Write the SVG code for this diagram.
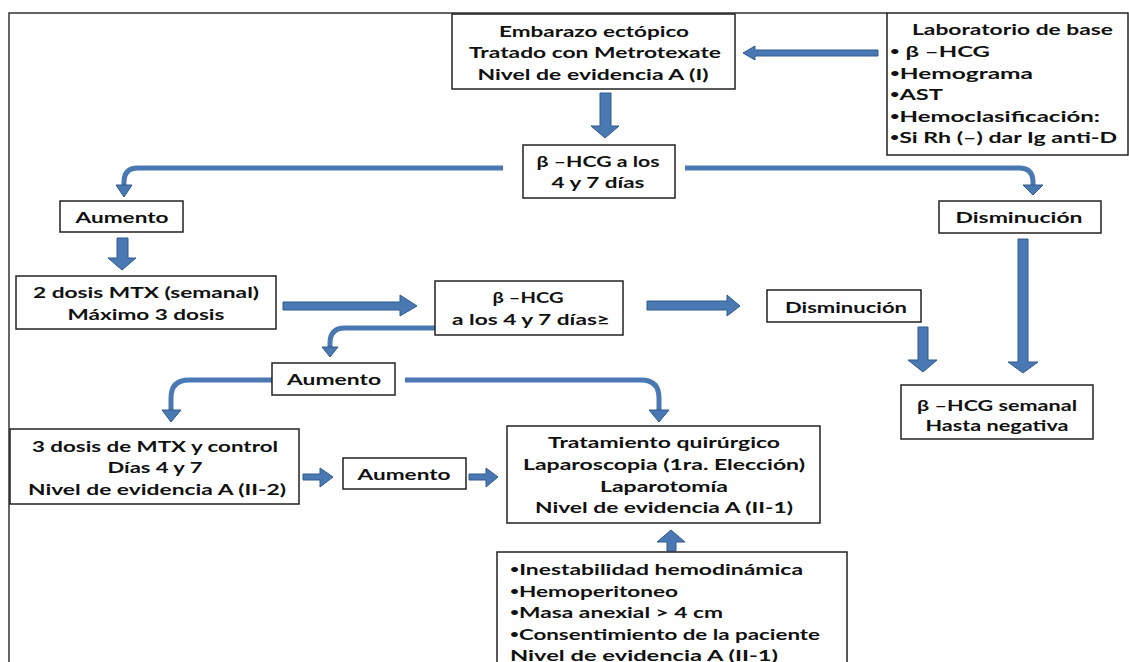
<svg xmlns="http://www.w3.org/2000/svg" width="1129" height="662" viewBox="0 0 1129 662">
<style>
.bx{fill:#fff;stroke:#222;stroke-width:1.5}
.t{font-family:Lato,"Open Sans","Liberation Sans",sans-serif;font-weight:700;font-size:16px;fill:#111}
.m{text-anchor:middle}
.b{font-size:11px}
.ar{fill:#4a78b3;stroke:#2f5b8d;stroke-width:1}
.cv{fill:none;stroke:#4a78b3;stroke-width:5}
.fr{stroke:#333;stroke-width:1.5;fill:none}
</style>
<rect width="1129" height="662" fill="#fff"/>
<path class="fr" d="M9,662 V13 H887"/>

<g id="connectors">
  <polygon class="ar" points="878,50 755,50 755,46 743,53 755,60 755,56 878,56"/>
  <polygon class="ar" points="600,93 611,93 611,126 619,126 605,138 591,126 600,126"/>
  <path class="cv" d="M503,168 H138 Q124,168 124,182 V186"/>
  <polygon class="ar" points="116,185 132,185 124,197"/>
  <path class="cv" d="M685,168 H1019 Q1033,168 1033,182 V186"/>
  <polygon class="ar" points="1023,185 1043,185 1033,195"/>
  <polygon class="ar" points="117,238 128,238 128,258 136,258 122,270 108,258 117,258"/>
  <polygon class="ar" points="283,302 400,302 400,295 417,306 400,316 400,310 283,310"/>
  <polygon class="ar" points="647,301 727,301 727,295 740,306 727,316 727,310 647,310"/>
  <polygon class="ar" points="918,327 928,327 928,360 937,360 923,372 908,360 918,360"/>
  <polygon class="ar" points="1018,239 1028,239 1028,362 1038,362 1023,373 1008,362 1018,362"/>
  <path class="cv" d="M437,328 H345 Q330,328 330,343 V348"/>
  <polygon class="ar" points="322,347 338,347 330,357"/>
  <path class="cv" d="M272,380 H189 Q171,380 171,398 V411"/>
  <polygon class="ar" points="162,410 181,410 171,422"/>
  <path class="cv" d="M405,380 H641 Q659,380 659,398 V411"/>
  <polygon class="ar" points="649,410 669,410 659,422"/>
  <polygon class="ar" points="303,474 320,474 320,468 333,477 320,487 320,480 303,480"/>
  <polygon class="ar" points="469,474 486,474 486,468 498,477 486,487 486,480 469,480"/>
  <polygon class="ar" points="667,551 676,551 676,542 685,542 671,530 657,542 667,542"/>
</g>

<g id="n-embarazo">
  <rect class="bx" x="452" y="14" width="283" height="75"/>
  <text class="t m" x="594" y="37" textLength="190" lengthAdjust="spacingAndGlyphs">Embarazo ectópico</text>
  <text class="t m" x="595" y="58" textLength="252" lengthAdjust="spacingAndGlyphs">Tratado con Metrotexate</text>
  <text class="t m" x="593" y="80" textLength="231" lengthAdjust="spacingAndGlyphs">Nivel de evidencia A (I)</text>
</g>

<g id="n-laboratorio">
  <rect class="bx" x="887" y="13" width="241" height="142"/>
  <text class="t" x="912" y="35" textLength="201" lengthAdjust="spacingAndGlyphs">Laboratorio de base</text>
  <text class="t" x="890" y="57" textLength="100" lengthAdjust="spacingAndGlyphs"><tspan class="b" baseline-shift="2">•</tspan> β –HCG</text>
  <text class="t" x="890" y="79" textLength="143" lengthAdjust="spacingAndGlyphs"><tspan class="b" baseline-shift="2">•</tspan>Hemograma</text>
  <text class="t" x="890" y="100" textLength="53" lengthAdjust="spacingAndGlyphs"><tspan class="b" baseline-shift="2">•</tspan>AST</text>
  <text class="t" x="890" y="122" textLength="210" lengthAdjust="spacingAndGlyphs"><tspan class="b" baseline-shift="2">•</tspan>Hemoclasificación:</text>
  <text class="t" x="890" y="143" textLength="227" lengthAdjust="spacingAndGlyphs"><tspan class="b" baseline-shift="2">•</tspan>Si Rh (–) dar Ig anti-D</text>
</g>

<g id="n-bhcg1">
  <rect class="bx" x="523" y="145" width="152" height="53"/>
  <text class="t m" x="598" y="167" textLength="123" lengthAdjust="spacingAndGlyphs">β –HCG a los</text>
  <text class="t m" x="598" y="188" textLength="93" lengthAdjust="spacingAndGlyphs">4 y 7 días</text>
</g>

<g id="n-aumento1">
  <rect class="bx" x="60" y="201" width="123" height="31"/>
  <text class="t m" x="122" y="223" textLength="93" lengthAdjust="spacingAndGlyphs">Aumento</text>
</g>

<g id="n-disminucion1">
  <rect class="bx" x="939" y="201" width="162" height="32"/>
  <text class="t m" x="1019" y="223" textLength="127" lengthAdjust="spacingAndGlyphs">Disminución</text>
</g>

<g id="n-2dosis">
  <rect class="bx" x="16" y="276" width="260" height="53"/>
  <text class="t m" x="146" y="298" textLength="226" lengthAdjust="spacingAndGlyphs">2 dosis MTX (semanal)</text>
  <text class="t m" x="146" y="320" textLength="157" lengthAdjust="spacingAndGlyphs">Máximo 3 dosis</text>
</g>

<g id="n-bhcg2">
  <rect class="bx" x="435" y="281" width="188" height="54"/>
  <text class="t m" x="528" y="303" textLength="71" lengthAdjust="spacingAndGlyphs">β –HCG</text>
  <text class="t m" x="531" y="325" textLength="158" lengthAdjust="spacingAndGlyphs">a los 4 y 7 días≥</text>
</g>

<g id="n-disminucion2">
  <rect class="bx" x="767" y="290" width="154" height="32"/>
  <text class="t m" x="846" y="313" textLength="122" lengthAdjust="spacingAndGlyphs">Disminución</text>
</g>

<g id="n-semanal">
  <rect class="bx" x="901" y="385" width="192" height="54"/>
  <text class="t m" x="997" y="411" textLength="160" lengthAdjust="spacingAndGlyphs">β –HCG semanal</text>
  <text class="t m" x="997" y="431" textLength="143" lengthAdjust="spacingAndGlyphs">Hasta negativa</text>
</g>

<g id="n-aumento2">
  <rect class="bx" x="272" y="363" width="123" height="32"/>
  <text class="t m" x="334" y="385" textLength="94" lengthAdjust="spacingAndGlyphs">Aumento</text>
</g>

<g id="n-3dosis">
  <rect class="bx" x="10" y="429" width="289" height="75"/>
  <text class="t m" x="155" y="452" textLength="246" lengthAdjust="spacingAndGlyphs">3 dosis de MTX y control</text>
  <text class="t m" x="155" y="473" textLength="95" lengthAdjust="spacingAndGlyphs">Días 4 y 7</text>
  <text class="t m" x="157" y="495" textLength="258" lengthAdjust="spacingAndGlyphs">Nivel de evidencia A (II-2)</text>
</g>

<g id="n-aumento3">
  <rect class="bx" x="343" y="458" width="123" height="31"/>
  <text class="t m" x="404" y="480" textLength="93" lengthAdjust="spacingAndGlyphs">Aumento</text>
</g>

<g id="n-tratamiento">
  <rect class="bx" x="507" y="426" width="313" height="97"/>
  <text class="t m" x="664" y="448" textLength="232" lengthAdjust="spacingAndGlyphs">Tratamiento quirúrgico</text>
  <text class="t m" x="664" y="470" textLength="282" lengthAdjust="spacingAndGlyphs">Laparoscopia (1ra. Elección)</text>
  <text class="t m" x="664" y="492" textLength="128" lengthAdjust="spacingAndGlyphs">Laparotomía</text>
  <text class="t m" x="664" y="513" textLength="258" lengthAdjust="spacingAndGlyphs">Nivel de evidencia A (II-1)</text>
</g>

<g id="n-criterios">
  <rect class="bx" x="497" y="552" width="350" height="120"/>
  <text class="t" x="510" y="575" textLength="293" lengthAdjust="spacingAndGlyphs"><tspan class="b" baseline-shift="2">•</tspan>Inestabilidad hemodinámica</text>
  <text class="t" x="510" y="597" textLength="168" lengthAdjust="spacingAndGlyphs"><tspan class="b" baseline-shift="2">•</tspan>Hemoperitoneo</text>
  <text class="t" x="510" y="618" textLength="213" lengthAdjust="spacingAndGlyphs"><tspan class="b" baseline-shift="2">•</tspan>Masa anexial &gt; 4 cm</text>
  <text class="t" x="510" y="640" textLength="310" lengthAdjust="spacingAndGlyphs"><tspan class="b" baseline-shift="2">•</tspan>Consentimiento de la paciente</text>
  <text class="t" x="510" y="661" textLength="268" lengthAdjust="spacingAndGlyphs">Nivel de evidencia A (II-1)</text>
</g>
</svg>
